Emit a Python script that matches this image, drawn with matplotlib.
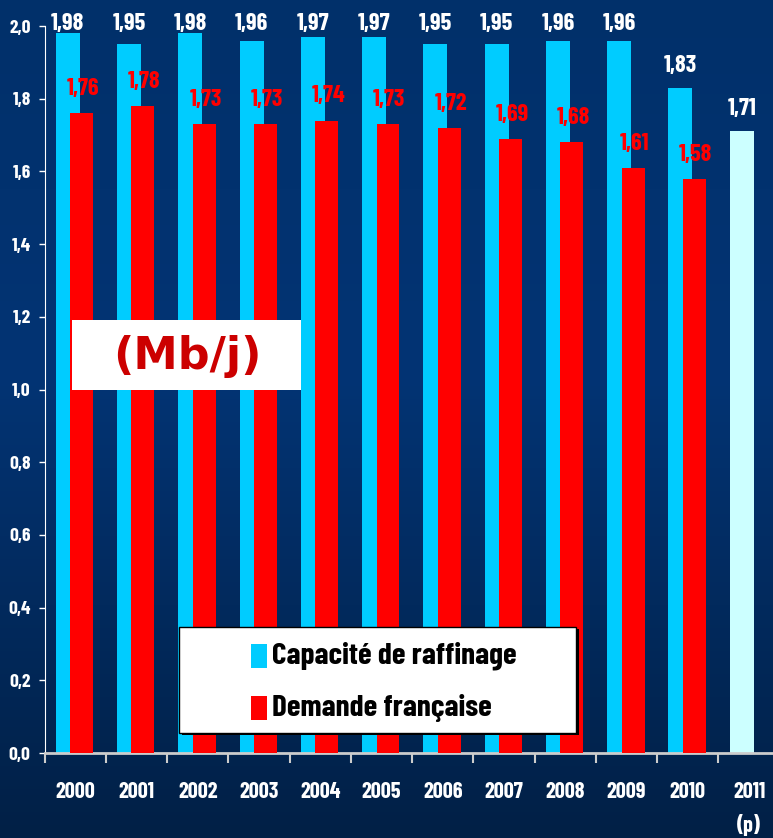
import matplotlib.pyplot as plt
from matplotlib.colors import LinearSegmentedColormap
from matplotlib.patches import Rectangle
import numpy as np

years = ['2000', '2001', '2002', '2003', '2004', '2005',
         '2006', '2007', '2008', '2009', '2010', '2011']
capacite = [1.98, 1.95, 1.98, 1.96, 1.97, 1.97, 1.95, 1.95, 1.96, 1.96, 1.83, 1.71]
demande = [1.76, 1.78, 1.73, 1.73, 1.74, 1.73, 1.72, 1.69, 1.68, 1.61, 1.58]
yticks = [0.0, 0.2, 0.4, 0.6, 0.8, 1.0, 1.2, 1.4, 1.6, 1.8, 2.0]

CYAN = '#00ccff'
CYAN_LIGHT = '#ccffff'
RED = '#ff0000'
# condensed bold face, with plain fallbacks
NARROW = ['Barlow Condensed', 'Liberation Sans', 'DejaVu Sans']

fig = plt.figure(figsize=(7.73, 8.38), dpi=100)

# background gradient
bg = fig.add_axes([0, 0, 1, 1])
grad = LinearSegmentedColormap.from_list(
    'bg', [(0.0, '#012046'), (0.55, '#033474'), (1.0, '#01306a')])
bg.imshow(np.linspace(0, 1, 256).reshape(-1, 1), aspect='auto', cmap=grad,
          origin='lower', extent=[0, 1, 0, 1])
bg.axis('off')

ax = fig.add_axes([0.0576, 0.1014, 0.951, 0.8675])
ax.patch.set_alpha(0)

x = np.arange(len(years))
cyan_colors = [CYAN] * (len(years) - 1) + [CYAN_LIGHT]
ax.bar(x - 0.12, capacite, width=0.39, color=cyan_colors, zorder=2)
ax.bar(x[:len(demande)] + 0.107, demande, width=0.375, color=RED, zorder=3)

# value labels (the top ones are held just under the frame edge)
for xi, v in zip(x, capacite):
    ax.text(xi - 0.12, min(v + 0.044, 1.989), f'{v:.2f}'.replace('.', ','),
            ha='center', va='baseline', color='white', fontsize=17.5,
            fontweight='bold', family=NARROW, clip_on=False, zorder=5)
for xi, v in zip(x, demande):
    ax.text(xi + 0.13, v + 0.05, f'{v:.2f}'.replace('.', ','), ha='center',
            va='baseline', color=RED, fontsize=17.5, fontweight='bold',
            family=NARROW, zorder=5)

ax.set_xlim(-0.5, 11.5)
ax.set_ylim(0, 2.0)
ax.set_yticks(yticks)
ax.set_yticklabels([f'{t:.1f}'.replace('.', ',') for t in yticks],
                   color='white', fontsize=14, fontweight='bold', family=NARROW)
ax.set_xticks(np.arange(-0.5, 11.5, 1.0))
ax.set_xticklabels([])
ax.tick_params(axis='y', colors='white', length=4, width=1, pad=6)
ax.tick_params(axis='x', colors='#cccccc', length=7, width=1.5, direction='out')
for xi, yr in zip(x, years):
    ax.text(xi, -0.108, yr, ha='center', va='center', color='white',
            fontsize=16, fontweight='bold', family=NARROW)
ax.text(11, -0.198, '(p)', ha='center', va='center', color='white',
        fontsize=16, fontweight='bold', family=NARROW)

for s in ['top', 'right']:
    ax.spines[s].set_visible(False)
ax.spines['left'].set_color('white')
ax.spines['bottom'].set_color('#cccccc')
ax.spines['bottom'].set_linewidth(2)

# unit box
fig.patches.append(Rectangle((72 / 773, 1 - 390 / 838), 229 / 773, 70 / 838,
                             transform=fig.transFigure, facecolor='white',
                             edgecolor='none', zorder=4))
fig.text(187 / 773, 1 - 356 / 838, '(Mb/j)', ha='center', va='center',
         color='#cc0000', fontsize=32, fontweight='bold', zorder=5)

# legend box with a small drop shadow
fig.patches.append(Rectangle((182 / 773, 1 - 735 / 838), 397 / 773, 106 / 838,
                             transform=fig.transFigure, facecolor='black',
                             edgecolor='none', zorder=4))
fig.patches.append(Rectangle((179 / 773, 1 - 733 / 838), 397 / 773, 106 / 838,
                             transform=fig.transFigure, facecolor='white',
                             edgecolor='black', linewidth=1, zorder=4))
for i, (lab, col) in enumerate([('Capacité de raffinage', CYAN),
                                 ('Demande française', RED)]):
    yc = 656 + i * 52
    fig.patches.append(Rectangle((251 / 773, 1 - (yc + 12) / 838), 16 / 773, 24 / 838,
                                 transform=fig.transFigure, facecolor=col,
                                 edgecolor='none', zorder=5))
    fig.text(272 / 773, 1 - yc / 838, lab, ha='left', va='center', color='black',
             fontsize=22.5, fontweight='bold', family=NARROW, zorder=6)

fig.savefig('out.png', dpi=100)
